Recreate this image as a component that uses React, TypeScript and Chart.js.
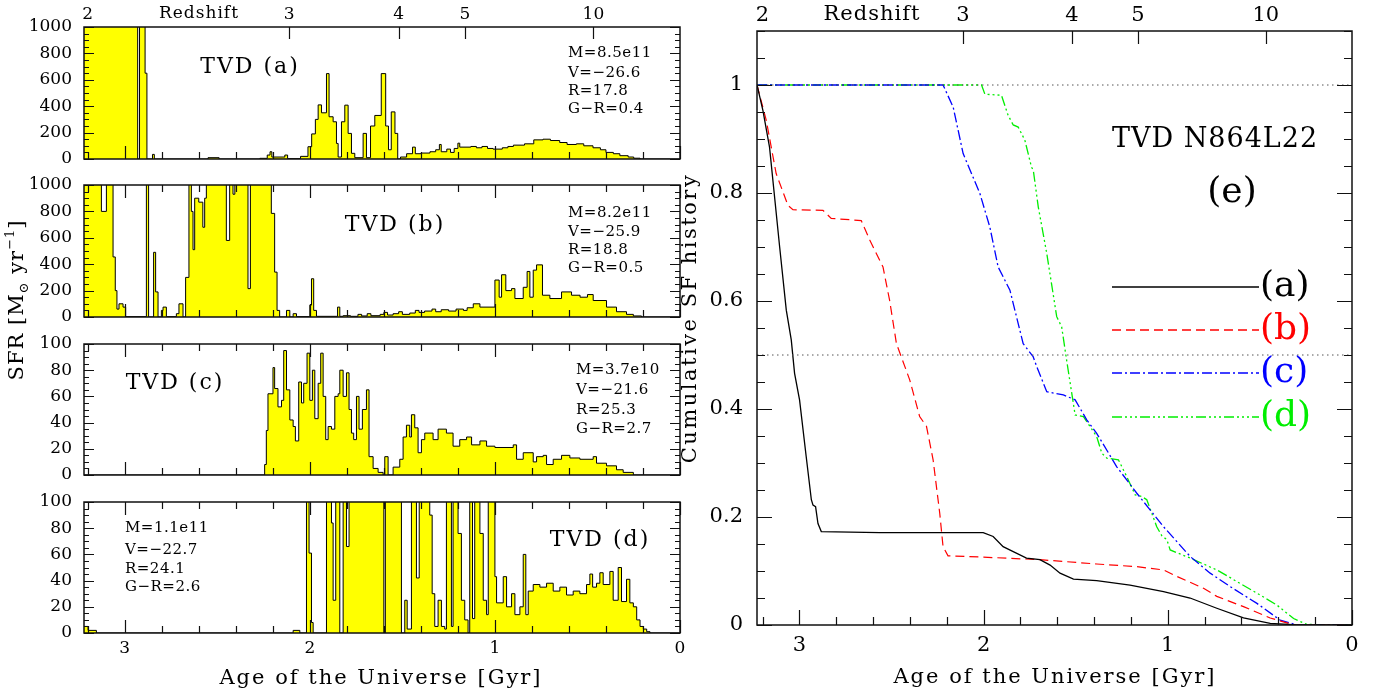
import React, { useEffect, useRef } from 'react';
import { Chart, registerables } from 'chart.js';

Chart.register(...registerables);

const W = 1387;
const H = 696;

// ---------------- DATA ----------------
// SFR histograms: [bin start age (Gyr), SFR (Msun/yr)]; each bin runs down to the next listed age.
const sfrA: [number, number][] = [
  [3.22, 1500], [2.93, 0], [2.92, 1500], [2.89, 650], [2.88, 0], [2.85, 35], [2.84, 0], [2.55, 10], [2.49, 0],
  [2.27, 5], [2.23, 30], [2.215, 55], [2.205, 15], [2.135, 30], [2.12, 3], [2.05, 20], [2.01, 93], [1.99, 190],
  [1.97, 300], [1.955, 410], [1.937, 350], [1.91, 647], [1.896, 320], [1.874, 282], [1.856, 118], [1.847, 15],
  [1.829, 282], [1.811, 408], [1.793, 194], [1.775, 43], [1.757, 10], [1.712, 194], [1.694, 10], [1.672, 250],
  [1.649, 330], [1.614, 647], [1.59, 250], [1.575, 70], [1.56, 357], [1.54, 194], [1.525, 0], [1.51, 15],
  [1.477, 40], [1.445, 90], [1.43, 40], [1.40, 45], [1.351, 55], [1.32, 70], [1.30, 110], [1.29, 55], [1.26, 75],
  [1.24, 50], [1.22, 80], [1.20, 120], [1.19, 90], [1.13, 95], [1.10, 85], [1.07, 95], [1.04, 80], [1.01, 75],
  [0.96, 85], [0.93, 95], [0.90, 105], [0.84, 115], [0.79, 145], [0.74, 150], [0.70, 140], [0.65, 125], [0.61, 110],
  [0.56, 115], [0.52, 100], [0.47, 85], [0.43, 70], [0.40, 50], [0.36, 40], [0.325, 25], [0.28, 15], [0.25, 6], [0.216, 0],
];
const sfrB: [number, number][] = [
  [3.22, 1500], [3.126, 800], [3.099, 1500], [3.063, 455], [3.051, 200], [3.042, 60], [3.031, 100], [3.009, 75],
  [2.995, 3], [2.883, 1500], [2.871, 0], [2.844, 490], [2.833, 190], [2.82, 0], [2.802, 50], [2.793, 75], [2.775, 3],
  [2.721, 25], [2.707, 100], [2.685, 0], [2.671, 300], [2.653, 1500], [2.64, 800], [2.631, 510], [2.622, 900],
  [2.60, 870], [2.578, 680], [2.568, 900], [2.559, 1500], [2.451, 580], [2.433, 1500], [2.415, 930], [2.405, 1500],
  [2.334, 215], [2.321, 1500], [2.208, 785], [2.19, 340], [2.177, 50], [2.163, 0], [2.126, 50], [2.108, 0],
  [2.09, 25], [2.072, 3], [2.0, 90], [1.991, 290], [1.979, 50], [1.964, 5], [1.85, 75], [1.838, 5], [1.82, 10],
  [1.78, 5], [1.74, 20], [1.72, 8], [1.69, 25], [1.67, 10], [1.62, 20], [1.60, 35], [1.58, 15], [1.55, 25],
  [1.52, 40], [1.50, 20], [1.46, 30], [1.43, 50], [1.41, 35], [1.38, 45], [1.34, 60], [1.32, 40], [1.29, 55],
  [1.25, 45], [1.21, 60], [1.17, 50], [1.15, 70], [1.117, 100], [1.081, 75], [1.0, 280], [0.977, 150], [0.964, 320],
  [0.941, 200], [0.91, 215], [0.892, 140], [0.847, 225], [0.826, 345], [0.811, 150], [0.793, 355], [0.775, 395],
  [0.743, 165], [0.703, 140], [0.64, 190], [0.586, 165], [0.54, 150], [0.50, 170], [0.469, 125], [0.397, 75],
  [0.343, 40], [0.289, 20], [0.252, 8], [0.208, 0],
];
const sfrC: [number, number][] = [
  [3.22, 0], [2.244, 8], [2.235, 34], [2.226, 62], [2.199, 82], [2.19, 66], [2.172, 52], [2.153, 57], [2.141, 95],
  [2.126, 65], [2.108, 42], [2.09, 37], [2.078, 26], [2.06, 71], [2.045, 55], [2.033, 70], [2.015, 93], [2.0, 57],
  [1.986, 80], [1.973, 43], [1.955, 70], [1.941, 93], [1.928, 60], [1.914, 27], [1.901, 37], [1.883, 35], [1.865, 60],
  [1.847, 62], [1.838, 80], [1.82, 60], [1.802, 78], [1.788, 50], [1.775, 32], [1.763, 27], [1.748, 60], [1.734, 35],
  [1.716, 50], [1.694, 65], [1.68, 14], [1.658, 5], [1.631, 2], [1.604, 0], [1.595, 14], [1.577, 0], [1.55, 6],
  [1.514, 12], [1.496, 29], [1.478, 38], [1.46, 29], [1.451, 46], [1.433, 36], [1.415, 17], [1.397, 27], [1.379, 32],
  [1.334, 27], [1.307, 35], [1.262, 32], [1.226, 22], [1.19, 27], [1.153, 29], [1.126, 23], [1.081, 26], [1.045, 22],
  [1.0, 21], [0.901, 23], [0.883, 12], [0.847, 17], [0.793, 10], [0.775, 14], [0.739, 15], [0.721, 8], [0.685, 12],
  [0.64, 15], [0.595, 13], [0.541, 12], [0.469, 14], [0.451, 9], [0.397, 7], [0.343, 4], [0.307, 2], [0.252, 0],
];
const sfrD: [number, number][] = [
  [3.22, 5], [3.198, 2], [3.153, 0], [2.09, 2], [2.054, 0], [2.018, 150], [2.004, 61], [1.991, 8], [1.982, 0],
  [1.91, 150], [1.883, 84], [1.874, 25], [1.86, 150], [1.838, 0], [1.82, 150], [1.802, 66], [1.788, 150], [1.600, 0],
  [1.592, 150], [1.505, 0], [1.487, 25], [1.474, 3], [1.451, 150], [1.424, 42], [1.409, 150], [1.352, 90], [1.339, 30],
  [1.325, 5], [1.307, 25], [1.289, 5], [1.271, 3], [1.262, 150], [1.235, 5], [1.226, 150], [1.199, 76], [1.181, 25],
  [1.163, 10], [1.145, 0], [1.136, 150], [1.121, 11], [1.109, 150], [1.081, 76], [1.063, 25], [1.045, 14], [1.036, 150],
  [1.0, 43], [0.991, 23], [0.955, 43], [0.937, 20], [0.91, 30], [0.892, 14], [0.865, 20], [0.847, 60], [0.833, 14],
  [0.82, 32], [0.793, 37], [0.757, 35], [0.721, 38], [0.685, 32], [0.649, 35], [0.613, 29], [0.577, 32], [0.541, 30],
  [0.505, 37], [0.487, 45], [0.472, 35], [0.451, 38], [0.433, 46], [0.415, 37], [0.379, 47], [0.361, 25], [0.334, 50],
  [0.316, 24], [0.289, 41], [0.271, 23], [0.252, 20], [0.234, 10], [0.216, 5], [0.198, 3], [0.18, 1], [0.162, 0],
];

// Cumulative SF history: [age (Gyr), fraction]
const cumA: [number, number][] = [
  [3.23, 1.0], [3.198, 0.953], [3.162, 0.885], [3.107, 0.7], [3.071, 0.583], [3.044, 0.528], [3.026, 0.466],
  [2.999, 0.417], [2.963, 0.312], [2.935, 0.232], [2.926, 0.222], [2.912, 0.219], [2.899, 0.188], [2.881, 0.173],
  [2.564, 0.171], [2.002, 0.171], [1.948, 0.164], [1.894, 0.145], [1.839, 0.136], [1.767, 0.124], [1.694, 0.121],
  [1.639, 0.111], [1.585, 0.096], [1.512, 0.085], [1.386, 0.082], [1.205, 0.074], [1.023, 0.062], [0.879, 0.05],
  [0.734, 0.031], [0.589, 0.013], [0.444, 0.003], [0.299, 0.0], [0, 0],
];
const cumB: [number, number][] = [
  [3.23, 1.0], [3.18, 0.935], [3.126, 0.836], [3.062, 0.777], [3.035, 0.769], [2.872, 0.768], [2.827, 0.753],
  [2.664, 0.749], [2.618, 0.713], [2.546, 0.663], [2.51, 0.601], [2.473, 0.521], [2.401, 0.454], [2.347, 0.386],
  [2.31, 0.368], [2.274, 0.306], [2.238, 0.207], [2.22, 0.145], [2.193, 0.128], [2.021, 0.126], [1.694, 0.121],
  [1.386, 0.113], [1.168, 0.108], [1.023, 0.102], [0.951, 0.09], [0.806, 0.068], [0.734, 0.053], [0.589, 0.034],
  [0.444, 0.013], [0.335, 0.002], [0.299, 0], [0, 0],
];
const cumC: [number, number][] = [
  [3.23, 1.0], [2.22, 1.0], [2.165, 0.959], [2.111, 0.873], [2.02, 0.799], [1.966, 0.737], [1.921, 0.663],
  [1.857, 0.62], [1.785, 0.521], [1.731, 0.497], [1.712, 0.479], [1.657, 0.432], [1.567, 0.426], [1.503, 0.417],
  [1.44, 0.38], [1.386, 0.355], [1.277, 0.293], [1.168, 0.244], [1.023, 0.182], [0.879, 0.127], [0.77, 0.096],
  [0.661, 0.071], [0.516, 0.04], [0.39, 0.009], [0.299, 0], [0, 0],
];
const cumD: [number, number][] = [
  [3.23, 1.0], [2.011, 1.0], [1.993, 0.983], [1.903, 0.981], [1.867, 0.944], [1.839, 0.926], [1.812, 0.922],
  [1.776, 0.898], [1.74, 0.848], [1.73, 0.842], [1.703, 0.774], [1.657, 0.688], [1.603, 0.571], [1.576, 0.552],
  [1.549, 0.49], [1.503, 0.389], [1.458, 0.386], [1.386, 0.349], [1.358, 0.318], [1.331, 0.309], [1.268, 0.306],
  [1.223, 0.275], [1.177, 0.241], [1.141, 0.238], [1.114, 0.232], [1.06, 0.182], [1.032, 0.165], [1.005, 0.158],
  [0.987, 0.139], [0.879, 0.124], [0.734, 0.102], [0.516, 0.059], [0.408, 0.037], [0.317, 0.012], [0.245, 0.001], [0, 0],
];

const refLevels = [1, 0.5];
const ageTickValues = [3, 2, 1, 0];
const sfrTicksBig = [0, 200, 400, 600, 800, 1000];
const sfrTicksSmall = [0, 20, 40, 60, 80, 100];
const cumTickValues = [0, 0.2, 0.4, 0.6, 0.8, 1];
const redshiftLabels = ['2', '3', '4', '5', '10'];
const redshiftAges = [3.2, 2.112, 1.52, 1.162, 0.468];

const panelNames = ['(a)', '(b)', '(c)', '(d)'];
const galaxyStats = [
  ['M=8.5e11', 'V=\u221226.6', 'R=17.8', 'G\u2212R=0.4'],
  ['M=8.2e11', 'V=\u221225.9', 'R=18.8', 'G\u2212R=0.5'],
  ['M=3.7e10', 'V=\u221221.6', 'R=25.3', 'G\u2212R=2.7'],
  ['M=1.1e11', 'V=\u221222.7', 'R=24.1', 'G\u2212R=2.6'],
];
const seriesNames = ['(a)', '(b)', '(c)', '(d)'];

// ---------------- LAYOUT / STYLE ----------------
const AGE_MAX_L = 3.22;
const AGE_MAX_R = 3.23;
const L_X0 = 84, L_X1 = 680;
const PANEL_TOPS = [27, 185, 344, 502];
const PANEL_BOTTOMS = [159, 317, 475, 633];
const R_X0 = 757, R_X1 = 1352, R_Y0 = 31, R_Y1 = 625;

const SERIF = '"DejaVu Serif", serif';

const titlePos = [[250, 67], [395, 225], [175, 383], [600, 540]];
const statsPos = [[568, [53, 73, 91, 109]], [568, [213, 232, 250, 268]], [576, [370, 390, 410, 429]], [125, [528, 550, 569, 587]]] as any;

const seriesStyles = [
  { color: '#000000', dash: [] as number[], width: 1.3 },
  { color: '#ff0000', dash: [9, 5], width: 1.2 },
  { color: '#0000ff', dash: [10, 3, 2, 3], width: 1.3 },
  { color: '#00ee00', dash: [10, 3, 2, 3, 2, 3, 2, 3], width: 1.3 },
];

function txt(ctx: CanvasRenderingContext2D, s: string, x: number, y: number, font: string,
  color = '#000', align: CanvasTextAlign = 'left', spacing = 0, rotate = false) {
  ctx.save();
  ctx.font = font;
  ctx.fillStyle = color;
  ctx.textAlign = align;
  ctx.textBaseline = 'middle';
  (ctx as any).letterSpacing = spacing + 'px';
  ctx.translate(x, y);
  if (rotate) ctx.rotate(-Math.PI / 2);
  ctx.fillText(s, 0, 0);
  ctx.restore();
}

function richRotated(ctx: CanvasRenderingContext2D, cx: number, cy: number,
  parts: { t: string; s: number; dy: number }[]) {
  ctx.save();
  ctx.translate(cx, cy);
  ctx.rotate(-Math.PI / 2);
  ctx.fillStyle = '#000';
  ctx.textBaseline = 'middle';
  ctx.textAlign = 'left';
  (ctx as any).letterSpacing = '1px';
  const widths = parts.map(p => { ctx.font = `${p.s}px ${SERIF}`; return ctx.measureText(p.t).width; });
  let x = -widths.reduce((a, b) => a + b, 0) / 2;
  parts.forEach((p, i) => { ctx.font = `${p.s}px ${SERIF}`; ctx.fillText(p.t, x, p.dy); x += widths[i]; });
  ctx.restore();
}

type Deco = {
  xMax: number; yMax: number; yMinor: number; yMajor: number;
  xMajorLen: number; xMinorLen: number; yMajorLen: number; yMinorLen: number;
  topAgeTicks: boolean; redshiftTicks: boolean; zLen: number;
  draw?: (ctx: CanvasRenderingContext2D, chart: any) => void;
};

function decoPlugin(d: Deco) {
  return {
    id: 'deco',
    afterDatasetsDraw(chart: any) {
      const { ctx, chartArea: a } = chart;
      const xs = chart.scales.x, ys = chart.scales.y;
      ctx.save();
      ctx.strokeStyle = '#111';
      ctx.lineWidth = 1.2;
      ctx.setLineDash([]);
      ctx.beginPath();
      for (let k = 0; k / 5 <= d.xMax + 1e-9; k++) {
        const px = Math.round(xs.getPixelForValue(k / 5)) + 0.5;
        const len = k % 5 === 0 ? d.xMajorLen : d.xMinorLen;
        ctx.moveTo(px, a.bottom); ctx.lineTo(px, a.bottom - len);
        if (d.topAgeTicks) { ctx.moveTo(px, a.top); ctx.lineTo(px, a.top + len); }
      }
      if (d.redshiftTicks) {
        for (let j = 1; j < redshiftAges.length; j++) {
          const px = Math.round(xs.getPixelForValue(redshiftAges[j])) + 0.5;
          ctx.moveTo(px, a.top); ctx.lineTo(px, a.top + d.zLen);
        }
      }
      const ny = Math.round(d.yMax / d.yMinor);
      const ratio = Math.round(d.yMajor / d.yMinor);
      for (let k = 0; k <= ny; k++) {
        const py = Math.round(ys.getPixelForValue(k * d.yMinor)) + 0.5;
        const len = k % ratio === 0 ? d.yMajorLen : d.yMinorLen;
        ctx.moveTo(a.left, py); ctx.lineTo(a.left + len, py);
        ctx.moveTo(a.right, py); ctx.lineTo(a.right - len, py);
      }
      ctx.stroke();
      ctx.lineWidth = 1.5;
      ctx.strokeRect(a.left, a.top, a.right - a.left, a.bottom - a.top);
      ctx.restore();
      if (d.draw) d.draw(ctx, chart);
    },
  };
}

const hiddenGrid = { display: false, drawTicks: false };
const noBorder = { display: false };

function leftConfig(i: number) {
  const top = PANEL_TOPS[i], bottom = PANEL_BOTTOMS[i];
  const data = [sfrA, sfrB, sfrC, sfrD][i];
  const yTicks = i < 2 ? sfrTicksBig : sfrTicksSmall;
  const ymax = yTicks[yTicks.length - 1];
  const pts = data.map(([x, y]) => ({ x, y }));
  pts.push({ x: 0, y: data[data.length - 1][1] });
  const scales: any = {
    x: {
      type: 'linear', position: 'bottom', reverse: true, min: 0, max: AGE_MAX_L,
      grid: hiddenGrid, border: noBorder,
      ticks: { display: i === 3, padding: 5, autoSkip: false, maxRotation: 0, color: '#000', font: { family: SERIF, size: 17 }, callback: (v: number) => String(v) },
      afterBuildTicks: (s: any) => { s.ticks = ageTickValues.map(v => ({ value: v })); },
      afterFit: (s: any) => { s.height = H - bottom; },
    },
    y: {
      type: 'linear', position: 'left', min: 0, max: ymax,
      grid: hiddenGrid, border: noBorder,
      ticks: { padding: 12, autoSkip: false, color: '#000', font: { family: SERIF, size: 17 }, callback: (v: number) => String(v) },
      afterBuildTicks: (s: any) => { s.ticks = yTicks.map(v => ({ value: v })); },
      afterFit: (s: any) => { s.width = L_X0; },
    },
  };
  if (i === 0) {
    scales.x2 = {
      type: 'linear', position: 'top', reverse: true, min: 0, max: AGE_MAX_L,
      grid: hiddenGrid, border: noBorder,
      ticks: { padding: 2, autoSkip: false, maxRotation: 0, color: '#000', font: { family: SERIF, size: 17 }, callback: (_v: number, idx: number) => redshiftLabels[idx] ?? '' },
      afterBuildTicks: (s: any) => { s.ticks = redshiftAges.map(v => ({ value: v })); },
      afterFit: (s: any) => { s.height = top; },
    };
  }
  const deco: Deco = {
    xMax: AGE_MAX_L, yMax: ymax, yMinor: ymax / 20, yMajor: ymax / 5,
    xMajorLen: 13, xMinorLen: 7, yMajorLen: 10, yMinorLen: 5,
    topAgeTicks: i !== 0, redshiftTicks: i === 0, zLen: 12,
    draw: (ctx) => {
      txt(ctx, 'TVD ' + panelNames[i], titlePos[i][0], titlePos[i][1], `22px ${SERIF}`, '#000', 'center', 2);
      const [sx, sys] = statsPos[i];
      galaxyStats[i].forEach((s, k) => txt(ctx, s, sx, sys[k], `15px ${SERIF}`, '#000', 'left', 0.5));
      if (i === 0) {
        txt(ctx, 'Redshift', 199, 14, `17px ${SERIF}`, '#000', 'center', 1);
        richRotated(ctx, 18, 300, [
          { t: 'SFR [M', s: 21, dy: 0 },
          { t: '\u2299', s: 13, dy: 7 },
          { t: ' yr', s: 21, dy: 0 },
          { t: '\u22121', s: 13, dy: -7 },
          { t: ']', s: 21, dy: 0 },
        ]);
      }
      if (i === 3) {
        txt(ctx, 'Age of the Universe [Gyr]', 381, 679, `21px ${SERIF}`, '#000', 'center', 2);
      }
    },
  };
  return {
    type: 'line',
    data: {
      datasets: [{
        data: pts, stepped: true, fill: 'origin', backgroundColor: '#ffff00', borderColor: '#000',
        borderWidth: 1, pointRadius: 0, xAxisID: 'x', yAxisID: 'y',
      }],
    },
    options: {
      animation: false, responsive: false, devicePixelRatio: 1, events: [],
      layout: { padding: { left: 0, right: W - L_X1, top: i === 0 ? 0 : top, bottom: 0 } },
      plugins: { legend: { display: false }, tooltip: { enabled: false } },
      scales,
    },
    plugins: [decoPlugin(deco)],
  };
}

function rightConfig() {
  const curves = [cumA, cumB, cumC, cumD];
  const datasets: any[] = refLevels.map(l => ({
    data: [{ x: AGE_MAX_R, y: l }, { x: 0, y: l }], borderColor: '#555', borderWidth: 1,
    borderDash: [1.5, 3.5], pointRadius: 0, xAxisID: 'x', yAxisID: 'y', fill: false,
  }));
  curves.forEach((c, k) => datasets.push({
    data: c.map(([x, y]) => ({ x, y })), borderColor: seriesStyles[k].color, borderWidth: seriesStyles[k].width,
    borderDash: seriesStyles[k].dash, pointRadius: 0, tension: 0, fill: false, xAxisID: 'x', yAxisID: 'y',
  }));
  const deco: Deco = {
    xMax: AGE_MAX_R, yMax: 1.1, yMinor: 0.05, yMajor: 0.2,
    xMajorLen: 15, xMinorLen: 8, yMajorLen: 15, yMinorLen: 8,
    topAgeTicks: false, redshiftTicks: true, zLen: 13,
    draw: (ctx) => {
      txt(ctx, 'Redshift', 872, 15, `21px ${SERIF}`, '#000', 'center', 1);
      txt(ctx, 'Cumulative SF history', 691, 318, `21px ${SERIF}`, '#000', 'center', 2.5, true);
      txt(ctx, 'Age of the Universe [Gyr]', 1055, 678, `21px ${SERIF}`, '#000', 'center', 2);
      txt(ctx, 'TVD N864L22', 1215, 140, `27px ${SERIF}`, '#000', 'center', 1);
      txt(ctx, '(e)', 1232, 193, `36px ${SERIF}`, '#000', 'center');
      const ly = [287, 330, 373, 417];
      seriesStyles.forEach((st, k) => {
        ctx.save();
        ctx.strokeStyle = st.color; ctx.lineWidth = 1.5; ctx.setLineDash(st.dash);
        ctx.beginPath(); ctx.moveTo(1112, ly[k]); ctx.lineTo(1259, ly[k]); ctx.stroke();
        ctx.restore();
        txt(ctx, seriesNames[k], 1260, ly[k], `36px ${SERIF}`, st.color, 'left');
      });
    },
  };
  return {
    type: 'line',
    data: { datasets },
    options: {
      animation: false, responsive: false, devicePixelRatio: 1, events: [],
      layout: { padding: { left: 0, right: W - R_X1, top: 0, bottom: 0 } },
      plugins: { legend: { display: false }, tooltip: { enabled: false } },
      scales: {
        x: {
          type: 'linear', position: 'bottom', reverse: true, min: 0, max: AGE_MAX_R,
          grid: hiddenGrid, border: noBorder,
          ticks: { padding: 8, autoSkip: false, maxRotation: 0, color: '#000', font: { family: SERIF, size: 21 }, callback: (v: number) => String(v) },
          afterBuildTicks: (s: any) => { s.ticks = ageTickValues.map(v => ({ value: v })); },
          afterFit: (s: any) => { s.height = H - R_Y1; },
        },
        x2: {
          type: 'linear', position: 'top', reverse: true, min: 0, max: AGE_MAX_R,
          grid: hiddenGrid, border: noBorder,
          ticks: { padding: 3, autoSkip: false, maxRotation: 0, color: '#000', font: { family: SERIF, size: 21 }, callback: (_v: number, idx: number) => redshiftLabels[idx] ?? '' },
          afterBuildTicks: (s: any) => { s.ticks = redshiftAges.map(v => ({ value: v })); },
          afterFit: (s: any) => { s.height = R_Y0; },
        },
        y: {
          type: 'linear', position: 'left', min: 0, max: 1.1,
          grid: hiddenGrid, border: noBorder,
          ticks: { padding: 14, autoSkip: false, color: '#000', font: { family: SERIF, size: 21 }, callback: (v: number) => String(v) },
          afterBuildTicks: (s: any) => { s.ticks = cumTickValues.map(v => ({ value: v })); },
          afterFit: (s: any) => { s.width = R_X0; },
        },
      },
    },
    plugins: [decoPlugin(deco)],
  };
}

function ChartCanvas({ build }: { build: () => any }) {
  const ref = useRef<HTMLCanvasElement>(null);
  useEffect(() => {
    const chart = new Chart(ref.current as HTMLCanvasElement, build());
    return () => chart.destroy();
  }, []);
  return <canvas ref={ref} width={W} height={H} style={{ position: 'absolute', left: 0, top: 0 }} />;
}

export default function App() {
  return (
    <div style={{ position: 'absolute', left: 0, top: 0, width: W, height: H, background: '#fff', overflow: 'hidden' }}>
      {[0, 1, 2, 3].map(i => <ChartCanvas key={i} build={() => leftConfig(i)} />)}
      <ChartCanvas build={rightConfig} />
    </div>
  );
}
